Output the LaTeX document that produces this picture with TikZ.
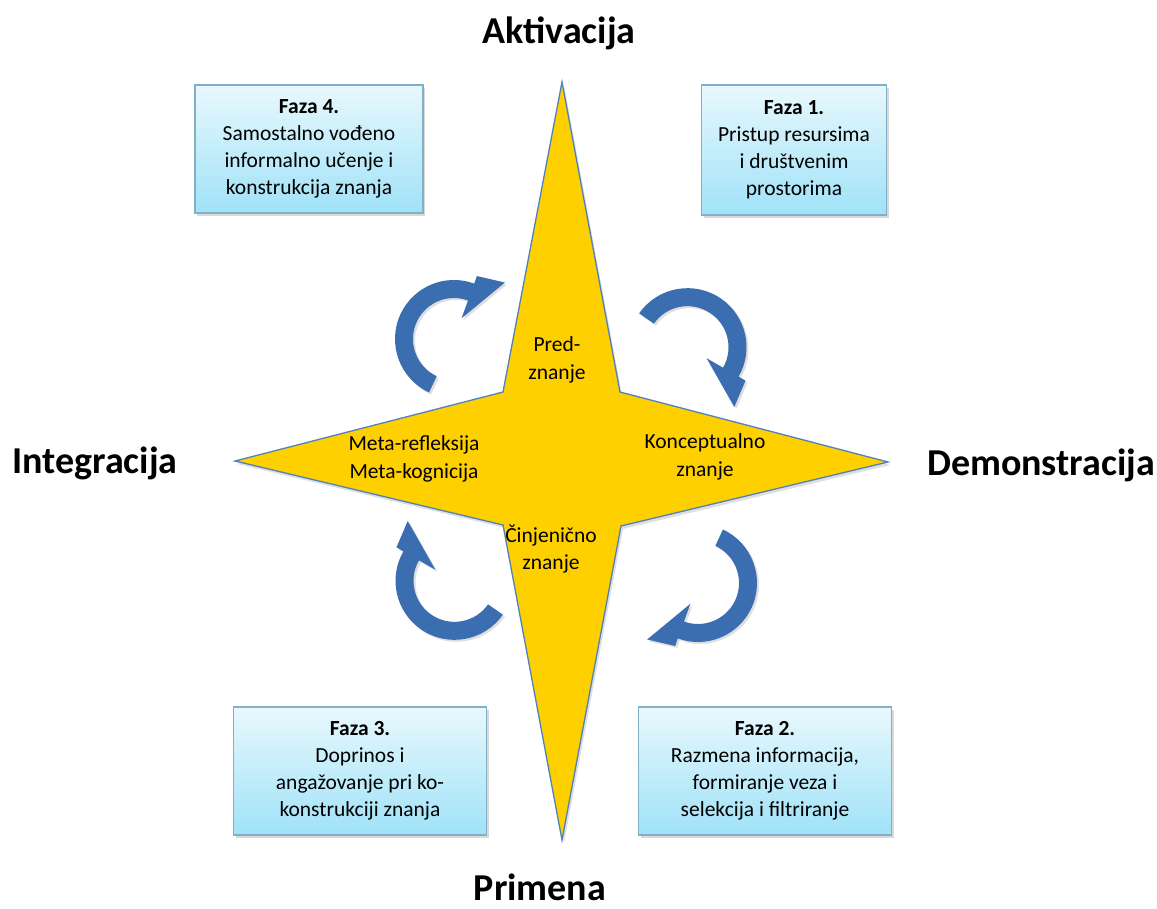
\documentclass[tikz,border=0pt]{standalone}
\usepackage{fontspec}
\setmainfont{Carlito}
\usetikzlibrary{shadows}
\definecolor{zlato}{RGB}{255,208,0}
\definecolor{ivica}{RGB}{79,129,189}
\definecolor{plava}{RGB}{58,110,176}
\definecolor{okvir}{RGB}{130,176,198}
\definecolor{nebo1}{RGB}{232,248,253}
\definecolor{nebo2}{RGB}{160,226,248}

\begin{document}
\begin{tikzpicture}[x=1pt,y=-1pt]
    \tikzset{
    faza/.style={draw=okvir, line width=1.2pt, top color=nebo1, bottom color=nebo2, align=center, inner sep=0pt,
        font=\fontsize{21.5}{27}\selectfont, drop shadow={shadow xshift=2pt, shadow yshift=-3pt, opacity=0.3}},
    naslov/.style={font=\fontsize{38}{44}\selectfont\bfseries},
    oznaka/.style={align=center, font=\fontsize{21.5}{27.5}\selectfont},
    zvezda/.style={fill=zlato, draw=ivica, line width=1.3pt, drop shadow={shadow xshift=2pt, shadow yshift=-3pt, opacity=0.25}},
    strel/.style={fill=plava, drop shadow={shadow xshift=2pt, shadow yshift=-2pt, opacity=0.25}},
    cyc/.pic={
        \fill[strel, shift={(9,4)}] (115:59) arc[start angle=115, end angle=290, radius=59]
            -- (290:67) -- (312:76) -- (290:22) -- (290:41)
            arc[start angle=290, end angle=115, radius=41] -- cycle;
    },
    }
    \useasboundingbox (0,0) rectangle (1157,909);

    \filldraw[zvezda] (562,82) -- (620,392) -- (888,462) -- (621,526) -- (562,840) -- (503,525) -- (235,461) -- (503,392) -- cycle;

    \pic at (445,335) {cyc};
    \pic[rotate=-100] at (693,339) {cyc};
    \pic[rotate=180] at (707,587) {cyc};
    \pic[rotate=80] at (449,589) {cyc};

    \node[naslov] (akt) at (559,33) {Aktivacija};
    \node[naslov] (dem) at (1041,465) {Demonstracija};
    \node[naslov] (int) at (95,463) {Integracija};
    \node[naslov] (pri) at (540,887) {Primena};

    \node[oznaka] (z1) at (557,360) {Pred-\\znanje};
    \node[oznaka] (z2) at (705,457) {Konceptualno\\znanje};
    \node[oznaka] (z3) at (414,459) {Meta-refleksija\\Meta-kognicija};
    \node[oznaka] (z4) at (551,549) {Činjenično\\znanje};

    \node[faza, minimum width=228, minimum height=128] (f4) at (309,149) {\textbf{Faza 4.}\\Samostalno vođeno\\informalno učenje i\\konstrukcija znanja};
    \node[faza, minimum width=185, minimum height=130] (f1) at (794,150) {\textbf{Faza 1.}\\Pristup resursima\\i društvenim\\prostorima};
    \node[faza, minimum width=253, minimum height=128] (f3) at (360,771) {\textbf{Faza 3.}\\Doprinos i\\angažovanje pri ko-\\konstrukciji znanja};
    \node[faza, minimum width=253, minimum height=128] (f2) at (765,771) {\textbf{Faza 2.}\\Razmena informacija,\\formiranje veza i\\selekcija i filtriranje};

\end{tikzpicture}
\end{document}
